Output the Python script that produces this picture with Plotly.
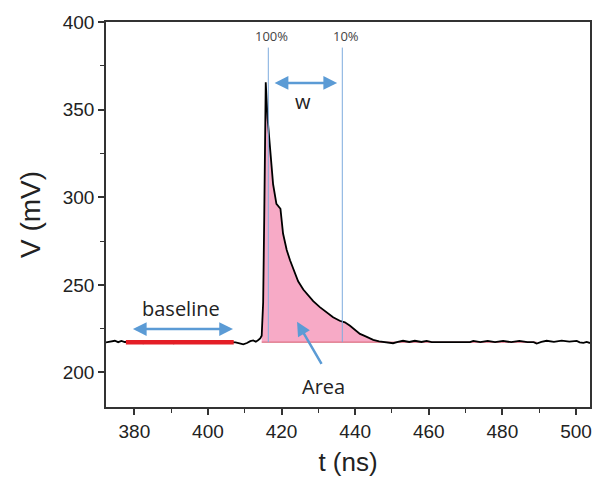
import plotly.graph_objects as go

# ---- data ----
t_ns = [372.3, 373.5, 374.7, 375.6, 376.5, 377.4, 378.5, 380.0, 381.3, 382.4, 383.5,
        385.0, 387.0, 389.0, 390.7, 392.0, 394.0, 396.0, 398.0, 400.0, 402.0, 404.0,
        406.0, 407.5, 408.6, 409.6, 410.6, 411.5, 412.3, 413.0, 413.6, 414.2, 414.6,
        415.0, 415.3, 415.7, 416.2, 416.8, 417.7, 418.6, 419.3, 419.7, 420.4, 421.4,
        422.3, 423.2, 424.5, 425.9, 427.2, 428.6, 430.4, 432.2, 434.0, 435.8, 437.2,
        438.6, 440.0, 441.3, 442.4, 443.5, 444.9, 446.5, 448.3, 450.3, 451.6, 453.0,
        454.7, 456.2, 458.0, 459.4, 460.8, 464.0, 468.0, 471.2, 472.1, 474.0, 476.0,
        478.0, 480.2, 482.4, 484.6, 486.8, 488.5, 489.3, 490.6, 492.0, 494.0, 496.1,
        498.2, 500.2, 501.0, 502.0, 502.9, 503.8]
v_mV = [217.2, 217.6, 218.1, 217.3, 218.0, 217.4, 217.5, 217.4, 217.5, 216.6, 217.4,
        217.5, 217.3, 217.6, 216.6, 217.4, 217.6, 217.4, 217.5, 217.3, 217.6, 217.4,
        217.5, 217.2, 216.6, 216.1, 216.8, 217.9, 218.3, 217.6, 218.4, 219.5, 221.0,
        240.0, 290.0, 365.6, 345.0, 330.0, 307.4, 296.2, 294.0, 293.4, 279.3, 269.9,
        264.0, 258.6, 252.0, 247.3, 243.8, 240.7, 237.3, 234.2, 231.5, 229.5, 228.6,
        226.7, 224.3, 222.0, 221.0, 220.1, 218.6, 217.8, 217.3, 216.7, 217.4, 218.1,
        217.4, 218.1, 217.4, 218.0, 217.3, 217.3, 217.3, 217.3, 218.0, 217.3, 218.0,
        217.3, 218.0, 217.3, 218.0, 217.3, 217.3, 216.5, 217.4, 218.1, 217.5, 218.2,
        217.6, 218.0, 217.2, 216.9, 217.4, 216.8]

baseline_level = 217.3
baseline_window = [377.7, 407.0]      # red segment
area_window = [414.4, 489.3]          # shaded pulse area
t_100 = 416.4                         # 100% marker
t_10 = 436.5                          # 10% marker
marker_top = 385.4

x_ticks = [380, 400, 420, 440, 460, 480, 500]
y_ticks = [200, 250, 300, 350, 400]

BLUE = "rgb(91,155,213)"
LINEBLUE = "rgb(125,172,222)"
PINK = "rgb(247,170,198)"
RED = "rgb(228,30,38)"
AX = "#333333"

# area subset
area_t = [t for t in t_ns if area_window[0] <= t <= area_window[1]]
area_v = [max(v, baseline_level) for t, v in zip(t_ns, v_mV) if area_window[0] <= t <= area_window[1]]

fig = go.Figure()
# baseline under the shaded area
fig.add_trace(go.Scatter(x=area_t, y=[baseline_level] * len(area_t), mode="lines",
                         line=dict(color="rgb(214,90,110)", width=1), showlegend=False,
                         hoverinfo="skip"))
fig.add_trace(go.Scatter(x=area_t, y=area_v, mode="lines", line=dict(width=0),
                         fill="tonexty", fillcolor=PINK, showlegend=False, hoverinfo="skip"))
# signal
fig.add_trace(go.Scatter(x=t_ns, y=v_mV, mode="lines", line=dict(color="black", width=1.8),
                         showlegend=False))
# red baseline segment (on top)
fig.add_trace(go.Scatter(x=baseline_window, y=[baseline_level, baseline_level], mode="lines",
                         line=dict(color=RED, width=4.5), showlegend=False))

# marker lines
for tm in (t_100, t_10):
    fig.add_shape(type="line", x0=tm, x1=tm, y0=baseline_level, y1=marker_top,
                  line=dict(color=LINEBLUE, width=1), xref="x", yref="y")

text_font = dict(family="Open Sans, Noto Sans, sans-serif", size=20, color="#222222")
small_font = dict(family="Open Sans, Noto Sans, sans-serif", size=13, color="#444444")

annos = [
    dict(x=417.3, y=391.9, text="100%", showarrow=False, font=small_font),
    dict(x=437.4, y=391.9, text="10%", showarrow=False, font=small_font),
    dict(x=425.7, y=354.8, text="w", showarrow=False, font=text_font),
    dict(x=392.8, y=236.4, text="baseline", showarrow=False, font=text_font),
    dict(x=431.5, y=191.9, text="Area", showarrow=False, font=text_font),
    # w arrow
    dict(x=435.1, y=365.2, ax=417.7, ay=365.2, axref="x", ayref="y", xref="x", yref="y",
         text="", showarrow=True, arrowhead=2, arrowside="end+start", arrowsize=1.1,
         arrowwidth=2.5, arrowcolor=BLUE),
    # baseline arrow
    dict(x=406.8, y=224.8, ax=379.2, ay=224.8, axref="x", ayref="y", xref="x", yref="y",
         text="", showarrow=True, arrowhead=2, arrowside="end+start", arrowsize=1.1,
         arrowwidth=2.5, arrowcolor=BLUE),
    # area arrow
    dict(x=424.2, y=228.9, ax=431.1, ay=204.1, axref="x", ayref="y", xref="x", yref="y",
         text="", showarrow=True, arrowhead=2, arrowsize=1.1, arrowwidth=2.5, arrowcolor=BLUE),
]
for a in annos:
    fig.add_annotation(**a)

tick_font = dict(family="Liberation Sans, Arial, sans-serif", size=19, color="#222222")
fig.update_xaxes(range=[372.3, 503.8], tickvals=x_ticks, ticks="outside", ticklen=6,
                 tickwidth=1.5, tickcolor=AX, showline=True, linecolor=AX, linewidth=1.5,
                 mirror=True, showgrid=False, zeroline=False, tickfont=tick_font,
                 minor=dict(dtick=10, tick0=370, ticks="outside", ticklen=4, tickcolor=AX,
                            tickwidth=1.2),
                 title=dict(text="t (ns)", font=dict(family="Liberation Sans, Arial, sans-serif",
                                                    size=26, color="#222222"), standoff=12))
fig.update_yaxes(range=[180.3, 400], tickvals=y_ticks, ticks="outside", ticklen=6,
                 tickwidth=1.5, tickcolor=AX, showline=True, linecolor=AX, linewidth=1.5,
                 mirror=True, showgrid=False, zeroline=False, tickfont=tick_font,
                 minor=dict(dtick=25, tick0=175, ticks="outside", ticklen=4, tickcolor=AX,
                            tickwidth=1.2),
                 title=dict(text="V (mV)", font=dict(family="Liberation Sans, Arial, sans-serif",
                                                    size=28, color="#222222"), standoff=14))
fig.update_layout(width=607, height=484, margin=dict(l=106, r=17, t=19, b=75),
                  plot_bgcolor="white", paper_bgcolor="white")
fig.write_html("out.html")
